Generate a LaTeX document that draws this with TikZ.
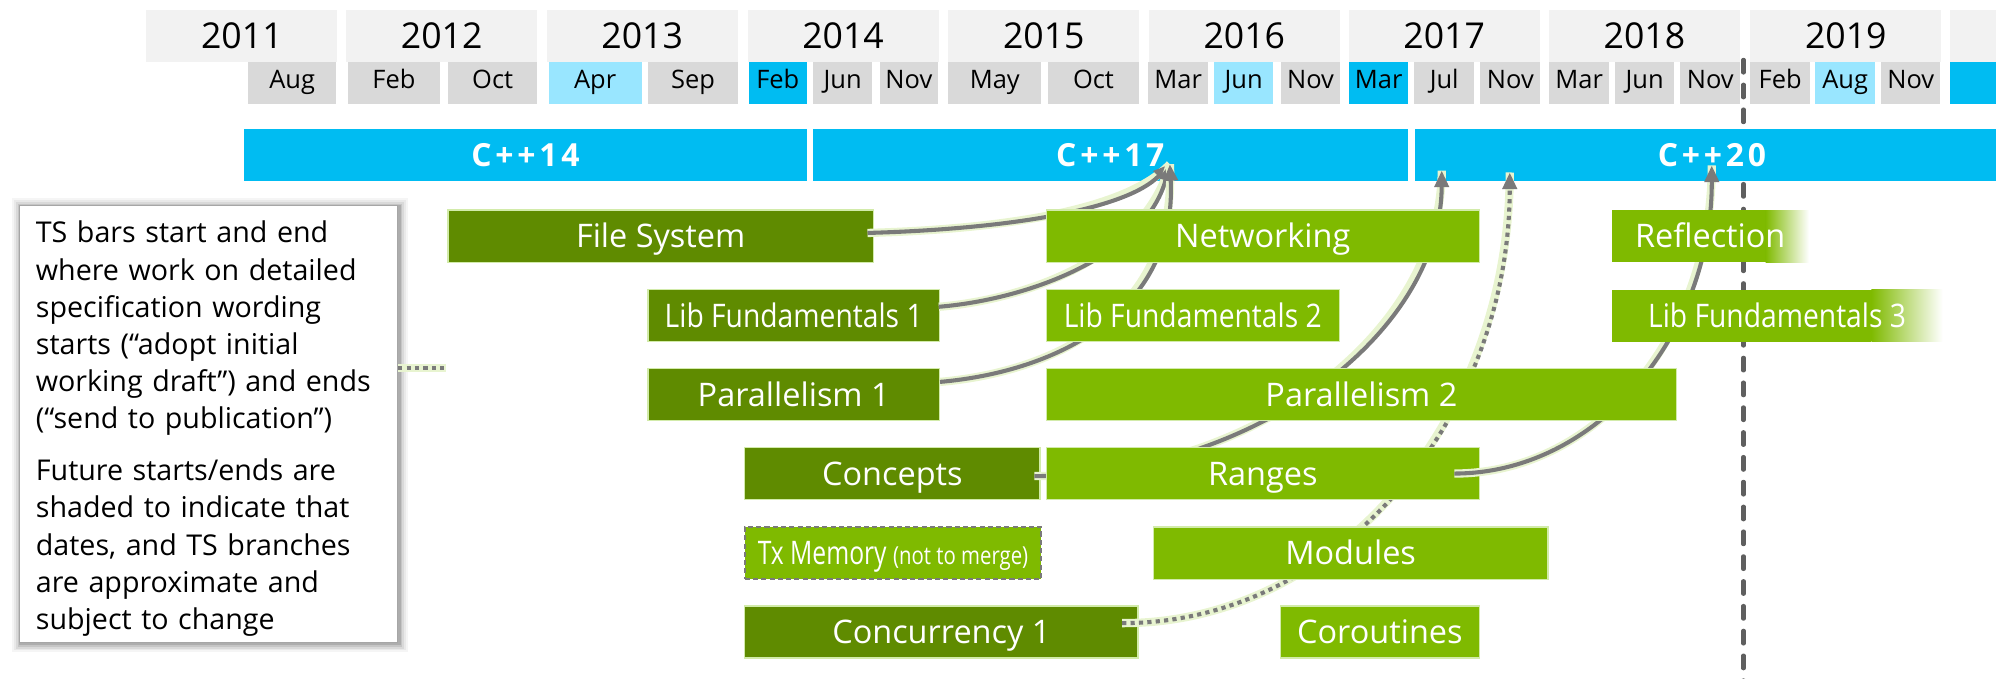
\documentclass[tikz,border=0pt]{standalone}
\usepackage{fontspec}
\setmainfont{Open Sans}
\newfontfamily\cond[FakeStretch=0.87]{Open Sans}
\newfontfamily\txcond[FakeStretch=0.76]{Open Sans}
\newfontfamily\txsmall[FakeStretch=0.82]{Open Sans}
\newfontfamily\cppf[LetterSpace=12]{Open Sans}
\usetikzlibrary{arrows.meta}
\pgfdeclarelayer{bg}
\pgfdeclarelayer{mid}
\pgfdeclarelayer{top}
\pgfsetlayers{bg,mid,main,top}
\definecolor{cyanc}{HTML}{00BCF2}
\definecolor{lblue}{RGB}{153,230,255}
\definecolor{yeargray}{HTML}{F2F2F2}
\definecolor{monthgray}{HTML}{D9D9D9}
\definecolor{dgreen}{HTML}{5F8B00}
\definecolor{lgreen}{HTML}{7FBA00}
\definecolor{linegray}{HTML}{7A7A7A}
\definecolor{dashgray}{HTML}{5F5F5F}
\definecolor{glowc}{RGB}{232,244,208}
\definecolor{edgec}{RGB}{210,235,170}
\begin{document}
\begin{tikzpicture}[x=1pt,y=-1pt,
  yearbox/.style={fill=yeargray,minimum width=150pt,minimum height=41pt,inner sep=0pt,text height=20pt,text depth=0pt,font=\fontsize{28}{30}\selectfont},
  monbox/.style={fill=monthgray,minimum height=33.2pt,inner sep=0pt,text height=14.3pt,text depth=5.2pt,font=\fontsize{20}{22}\selectfont},
  cppbar/.style={fill=cyanc,minimum height=41pt,inner sep=0pt,text=white,text height=18pt,text depth=0pt,font=\cppf\bfseries\fontsize{25}{28}\selectfont},
  gbox/.style={minimum height=41pt,inner sep=0pt,text=white,text height=18.2pt,text depth=0pt,font=\fontsize{25.5}{28}\selectfont,draw=edgec,line width=1pt},
  dbox/.style={gbox,fill=dgreen},
  lbox/.style={gbox,fill=lgreen},
  fadebox/.style={minimum height=41pt,inner sep=0pt,text=white,text height=18.2pt,text depth=0pt,font=\fontsize{25.5}{28}\selectfont,
    path picture={
      \fill[lgreen] (path picture bounding box.north west) rectangle ([xshift=-#1pt]path picture bounding box.south east);
      \shade[left color=lgreen,right color=white] ([xshift=-#1pt]path picture bounding box.north east) rectangle (path picture bounding box.south east);
    }},
  conn/.style={draw=linegray,line width=3.2pt,preaction={draw=glowc,line width=6.5pt,solid,arrows=-},-{Triangle[length=13pt,width=11pt]}},
  dconn/.style={conn,dash pattern=on 3.3pt off 3.3pt}
]
\useasboundingbox (0,0) rectangle (1568,533);

\begin{pgfonlayer}{bg}
% dashed "now" line
\coordinate (dtop) at (1369.6,47);
\coordinate (dbot) at (1369.6,540);
\draw[dashgray,line width=3.2pt,line cap=round,dash pattern=on 10pt off 9.5pt] (dtop) -- (dbot);

% years
\node[yearbox] (y2011) at (190,28) {2011};
\node[yearbox] (y2012) at (347,28) {2012};
\node[yearbox] (y2013) at (504.5,28) {2013};
\node[yearbox] (y2014) at (662.3,28) {2014};
\node[yearbox] (y2015) at (820,28) {2015};
\node[yearbox] (y2016) at (977.5,28) {2016};
\node[yearbox] (y2017) at (1134.5,28) {2017};
\node[yearbox] (y2018) at (1291.8,28) {2018};
\node[yearbox] (y2019) at (1450,28) {2019};
\node[yearbox] (y2020) at (1607,28) {};

% months
\node[monbox,minimum width=69pt] (m1) at (229.5,65.1) {Aug};
\node[monbox,minimum width=73pt] (m2) at (309.5,65.1) {Feb};
\node[monbox,minimum width=70pt] (m3) at (387,65.1) {Oct};
\node[monbox,fill=lblue,minimum width=73pt] (m4) at (467.5,65.1) {Apr};
\node[monbox,minimum width=71pt] (m5) at (544.5,65.1) {Sep};
\node[monbox,fill=cyanc,minimum width=46pt] (m6) at (611,65.1) {Feb};
\node[monbox,minimum width=46pt] (m7) at (662,65.1) {Jun};
\node[monbox,minimum width=46pt] (m8) at (714,65.1) {Nov};
\node[monbox,minimum width=73pt] (m9) at (781.5,65.1) {May};
\node[monbox,minimum width=72pt] (m10) at (859,65.1) {Oct};
\node[monbox,minimum width=47pt] (m11) at (925.5,65.1) {Mar};
\node[monbox,fill=lblue,minimum width=46pt] (m12) at (977,65.1) {Jun};
\node[monbox,minimum width=47pt] (m13) at (1029.5,65.1) {Nov};
\node[monbox,fill=cyanc,minimum width=46pt] (m14) at (1083,65.1) {Mar};
\node[monbox,minimum width=47pt] (m15) at (1134.5,65.1) {Jul};
\node[monbox,minimum width=47pt] (m16) at (1186.5,65.1) {Nov};
\node[monbox,minimum width=47pt] (m17) at (1240.5,65.1) {Mar};
\node[monbox,minimum width=46pt] (m18) at (1292,65.1) {Jun};
\node[monbox,minimum width=47pt] (m19) at (1343.5,65.1) {Nov};
\node[monbox,minimum width=47pt] (m20) at (1398.5,65.1) {Feb};
\node[monbox,fill=lblue,minimum width=47pt] (m21) at (1449.5,65.1) {Aug};
\node[monbox,minimum width=46pt] (m22) at (1501,65.1) {Nov};
\node[monbox,fill=cyanc,minimum width=46pt] (m23) at (1555,65.1) {};

% standard bars
\node[cppbar,minimum width=442pt] (cpp14) at (412.7,122) {C++14};
\node[cppbar,minimum width=467.6pt] (cpp17) at (872.2,122) {C++17};
\node[cppbar,minimum width=466.4pt] (cpp20) at (1344.8,122) {C++20};

% note box with soft shadow
\foreach \s/\o in {7/0.04,5.5/0.05,4/0.07,2.5/0.09,1.2/0.12}
  \fill[black,opacity=\o] (15-\s+1.5,161-\s+1.5) rectangle (312+\s+1.5,504+\s+1.5);
\node[draw=black!35,line width=0.8pt,fill=white,minimum width=297pt,minimum height=343pt,inner sep=0pt,anchor=north west] (tb) at (15,161) {};
\node[anchor=north west,inner sep=0pt,text width=290pt,align=left,font=\fontsize{22.5}{29.2}\selectfont] (tbt) at (28,173.5)
 {TS bars start and end\\
  where work on detailed\\
  specification wording\\
  starts (“adopt initial\\
  working draft”) and ends\\
  (“send to publication”)\\[11.6pt]
  Future starts/ends are\\
  shaded to indicate that\\
  dates, and TS branches\\
  are approximate and\\
  subject to change};

% source TS boxes (dark green)
\node[dbox,minimum width=334pt] (fs) at (519,185.5) {File System};
\node[dbox,minimum width=229pt] (lf1) at (623.5,248) {\cond Lib Fundamentals 1};
\node[dbox,minimum width=229pt] (par1) at (623.5,310) {Parallelism 1};
\node[dbox,minimum width=232pt] (conc) at (701,372) {Concepts};
\node[lbox,draw=linegray,line width=1.8pt,dash pattern=on 4pt off 2.5pt,minimum width=233pt] (tx) at (701.5,434.5)
  {\txcond Tx Memory \txsmall\fontsize{19.5}{22}\selectfont(not to merge)};
\node[dbox,minimum width=309pt] (cc1) at (739.5,496.5) {Concurrency 1};
\end{pgfonlayer}

% target-side TS boxes (light green)
\node[lbox,minimum width=340pt] (net) at (992,185.5) {Networking};
\node[lbox,minimum width=230pt] (lf2) at (937,248) {\cond Lib Fundamentals 2};
\node[lbox,minimum width=495pt] (par2) at (1069.5,310) {Parallelism 2};
\node[lbox,minimum width=340pt] (rng) at (992,372) {Ranges};
\node[lbox,minimum width=310pt] (mod) at (1061,434.5) {Modules};
\node[lbox,minimum width=156pt] (cor) at (1084,496.5) {Coroutines};
\node[fadebox=34,minimum width=155pt] (refl) at (1343.5,185.5) {Reflection};
\node[fadebox=56,minimum width=260pt] (lf3) at (1396,248) {\cond Lib Fundamentals 3};

% tips
\coordinate (t17) at (919,129);
\coordinate (t20a) at (1132.6,134);
\coordinate (t20b) at (1186,135.5);
\coordinate (t20c) at (1344.7,130);
\coordinate (stubend) at (350,289);

\begin{pgfonlayer}{mid}
\draw[dconn,arrows=-] (tb.east |- stubend) -- (stubend);
\draw[conn] ([shift={(-5,-2.5)}]fs.east) .. controls (790,180) and (885,165) .. (t17);
\draw[conn] ([shift={(-1,-7)}]lf1.east) .. controls (810,235) and (900,200) .. (t17);
\draw[conn] ([shift={(0,-10)}]par1.east) .. controls (830,292) and (925,245) .. (t17);
\draw[conn] ([shift={(-5,2)}]conc.east) .. controls (985,374) and (1132,262) .. (t20a);
\draw[dconn] ([shift={(-13,-7)}]cc1.east) .. controls (1049,490) and (1186,331) .. (t20b);
\draw[conn] ([shift={(-20,0)}]rng.east) .. controls (1254,372) and (1345,264) .. (t20c);
\end{pgfonlayer}

% start of the Ranges connector lies on top of its box
\begin{pgfonlayer}{top}
\begin{scope}
  \clip (rng.north west) rectangle (rng.south east);
  \draw[conn] ([shift={(-20,0)}]rng.east) .. controls (1254,372) and (1345,264) .. (t20c);
\end{scope}
\end{pgfonlayer}
\end{tikzpicture}
\end{document}
